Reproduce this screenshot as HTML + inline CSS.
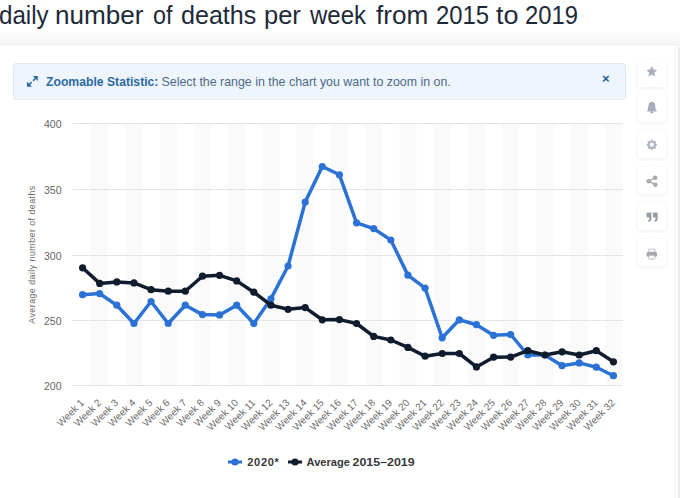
<!DOCTYPE html>
<html><head><meta charset="utf-8"><style>
*{margin:0;padding:0;box-sizing:border-box}
html,body{width:680px;height:498px;overflow:hidden;background:#fff;font-family:"Liberation Sans",sans-serif}
.shade{position:absolute;left:0;top:30px;width:680px;height:16px;background:linear-gradient(to bottom,rgba(0,0,0,0),rgba(0,0,0,0.045))}
.card{position:absolute;left:0;top:46px;width:680px;height:460px;background:#fff}
.rb{position:absolute;left:678px;top:47px;width:2px;height:460px;background:#ececec}
.rl{position:absolute;left:675px;top:47px;width:1px;height:460px;background:#f5f5f5}
h1{position:absolute;left:0;top:0px;width:680px;height:31px;font-size:24.9px;font-weight:normal;color:#1e2a39;white-space:nowrap;line-height:30px}
h1 span{position:absolute;top:0;transform-origin:0 0}
.info{position:absolute;left:13px;top:63px;width:613px;height:37px;background:#eef5fc;border:1px solid #e0e8f0;border-radius:3px;font-size:12.5px;color:#4d6b88;line-height:35px;padding-left:32px;white-space:nowrap}
.info b{color:#2b6aa2}
.b1{position:absolute;left:32px;top:1px;font-size:12.2px}
.r1{position:absolute;left:147.5px;top:1px;font-size:12.4px}
.info .x{position:absolute;right:15.5px;top:-3.2px;font-weight:bold;color:#245f96;font-size:13px}
.btn{position:absolute;left:638px;width:28px;height:28px;background:#fff;border-radius:3px;box-shadow:0 1px 4px rgba(0,0,0,0.075)}
svg{position:absolute;left:0;top:0}
.yl{font-size:10.5px;fill:#666}
.yt{font-size:8.8px;fill:#6a6a6a;letter-spacing:0.48px}
.xl{font-size:10px;fill:#6c6c6c}
.lg{font-size:11px;font-weight:bold;fill:#383838}
</style></head><body>
<div class="shade"></div>
<div class="card"></div><div class="rl"></div><div class="rb"></div>
<h1><span style="left:-0.97px;transform:scaleX(0.9706)">daily</span><span style="left:55.30px;transform:scaleX(1.0494)">number</span><span style="left:152.76px;transform:scaleX(0.9400)">of</span><span style="left:181.39px;transform:scaleX(1.0081)">deaths</span><span style="left:263.55px;transform:scaleX(1.0235)">per</span><span style="left:309.50px;transform:scaleX(0.9661)">week</span><span style="left:376.00px;transform:scaleX(1.0510)">from</span><span style="left:436.04px;transform:scaleX(0.9593)">2015</span><span style="left:495.70px;transform:scaleX(1.0850)">to</span><span style="left:525.04px;transform:scaleX(0.9556)">2019</span></h1>
<div class="info"><svg width="10.8" height="10.8" viewBox="0 0 12 12" style="position:absolute;left:13px;top:12px"><path d="M1 11 L5.2 6.8 M11 1 L6.8 5.2" stroke="#2b6aa2" stroke-width="1.7" fill="none"/><path d="M0 12 L0 6.5 L5.5 12Z M12 0 L12 5.5 L6.5 0Z" fill="#2b6aa2"/></svg><b class="b1">Zoomable Statistic:</b><span class="r1">Select the range in the chart you want to zoom in on.</span><span class="x">&#215;</span></div>
<div class="btn" style="top:59.5px;height:27px"></div><div class="btn" style="top:95.3px;height:27px"></div><div class="btn" style="top:131.2px;height:27px"></div><div class="btn" style="top:167.2px;height:27px"></div><div class="btn" style="top:203.3px;height:27px"></div><div class="btn" style="top:239.4px;height:27px"></div>
<svg width="680" height="498" viewBox="0 0 680 498">
<rect x="91.12" y="123.5" width="17.12" height="262.0" fill="#fafafa"/>
<rect x="125.38" y="123.5" width="17.12" height="262.0" fill="#fafafa"/>
<rect x="159.62" y="123.5" width="17.12" height="262.0" fill="#fafafa"/>
<rect x="193.88" y="123.5" width="17.12" height="262.0" fill="#fafafa"/>
<rect x="228.12" y="123.5" width="17.12" height="262.0" fill="#fafafa"/>
<rect x="262.38" y="123.5" width="17.12" height="262.0" fill="#fafafa"/>
<rect x="296.62" y="123.5" width="17.12" height="262.0" fill="#fafafa"/>
<rect x="330.88" y="123.5" width="17.12" height="262.0" fill="#fafafa"/>
<rect x="365.12" y="123.5" width="17.12" height="262.0" fill="#fafafa"/>
<rect x="399.38" y="123.5" width="17.12" height="262.0" fill="#fafafa"/>
<rect x="433.62" y="123.5" width="17.12" height="262.0" fill="#fafafa"/>
<rect x="467.88" y="123.5" width="17.12" height="262.0" fill="#fafafa"/>
<rect x="502.12" y="123.5" width="17.12" height="262.0" fill="#fafafa"/>
<rect x="536.38" y="123.5" width="17.12" height="262.0" fill="#fafafa"/>
<rect x="570.62" y="123.5" width="17.12" height="262.0" fill="#fafafa"/>
<rect x="604.88" y="123.5" width="17.12" height="262.0" fill="#fafafa"/>
<line x1="72.5" x2="623.0" y1="123.5" y2="123.5" stroke="#e4e4e4" stroke-width="1"/>
<line x1="72.5" x2="623.0" y1="189.5" y2="189.5" stroke="#e4e4e4" stroke-width="1"/>
<line x1="72.5" x2="623.0" y1="255.5" y2="255.5" stroke="#e4e4e4" stroke-width="1"/>
<line x1="72.5" x2="623.0" y1="320.5" y2="320.5" stroke="#e4e4e4" stroke-width="1"/>
<line x1="72.5" x2="623.0" y1="385.5" y2="385.5" stroke="#e4e4e4" stroke-width="1"/>
<text x="61.5" y="128.1" text-anchor="end" class="yl">400</text>
<text x="61.5" y="193.6" text-anchor="end" class="yl">350</text>
<text x="61.5" y="259.5" text-anchor="end" class="yl">300</text>
<text x="61.5" y="324.6" text-anchor="end" class="yl">250</text>
<text x="61.5" y="390.1" text-anchor="end" class="yl">200</text>
<text transform="translate(35,254.5) rotate(-90)" text-anchor="middle" class="yt">Average daily number of deaths</text>
<text transform="translate(84.76,403.4) rotate(-45)" text-anchor="end" class="xl">Week 1</text>
<text transform="translate(101.89,403.4) rotate(-45)" text-anchor="end" class="xl">Week 2</text>
<text transform="translate(119.01,403.4) rotate(-45)" text-anchor="end" class="xl">Week 3</text>
<text transform="translate(136.14,403.4) rotate(-45)" text-anchor="end" class="xl">Week 4</text>
<text transform="translate(153.26,403.4) rotate(-45)" text-anchor="end" class="xl">Week 5</text>
<text transform="translate(170.39,403.4) rotate(-45)" text-anchor="end" class="xl">Week 6</text>
<text transform="translate(187.51,403.4) rotate(-45)" text-anchor="end" class="xl">Week 7</text>
<text transform="translate(204.64,403.4) rotate(-45)" text-anchor="end" class="xl">Week 8</text>
<text transform="translate(221.76,403.4) rotate(-45)" text-anchor="end" class="xl">Week 9</text>
<text transform="translate(238.89,403.4) rotate(-45)" text-anchor="end" class="xl">Week 10</text>
<text transform="translate(256.01,403.4) rotate(-45)" text-anchor="end" class="xl">Week 11</text>
<text transform="translate(273.14,403.4) rotate(-45)" text-anchor="end" class="xl">Week 12</text>
<text transform="translate(290.26,403.4) rotate(-45)" text-anchor="end" class="xl">Week 13</text>
<text transform="translate(307.39,403.4) rotate(-45)" text-anchor="end" class="xl">Week 14</text>
<text transform="translate(324.51,403.4) rotate(-45)" text-anchor="end" class="xl">Week 15</text>
<text transform="translate(341.64,403.4) rotate(-45)" text-anchor="end" class="xl">Week 16</text>
<text transform="translate(358.76,403.4) rotate(-45)" text-anchor="end" class="xl">Week 17</text>
<text transform="translate(375.89,403.4) rotate(-45)" text-anchor="end" class="xl">Week 18</text>
<text transform="translate(393.01,403.4) rotate(-45)" text-anchor="end" class="xl">Week 19</text>
<text transform="translate(410.14,403.4) rotate(-45)" text-anchor="end" class="xl">Week 20</text>
<text transform="translate(427.26,403.4) rotate(-45)" text-anchor="end" class="xl">Week 21</text>
<text transform="translate(444.39,403.4) rotate(-45)" text-anchor="end" class="xl">Week 22</text>
<text transform="translate(461.51,403.4) rotate(-45)" text-anchor="end" class="xl">Week 23</text>
<text transform="translate(478.64,403.4) rotate(-45)" text-anchor="end" class="xl">Week 24</text>
<text transform="translate(495.76,403.4) rotate(-45)" text-anchor="end" class="xl">Week 25</text>
<text transform="translate(512.89,403.4) rotate(-45)" text-anchor="end" class="xl">Week 26</text>
<text transform="translate(530.01,403.4) rotate(-45)" text-anchor="end" class="xl">Week 27</text>
<text transform="translate(547.14,403.4) rotate(-45)" text-anchor="end" class="xl">Week 28</text>
<text transform="translate(564.26,403.4) rotate(-45)" text-anchor="end" class="xl">Week 29</text>
<text transform="translate(581.39,403.4) rotate(-45)" text-anchor="end" class="xl">Week 30</text>
<text transform="translate(598.51,403.4) rotate(-45)" text-anchor="end" class="xl">Week 31</text>
<text transform="translate(615.64,403.4) rotate(-45)" text-anchor="end" class="xl">Week 32</text>
<polyline points="82.56,294.7 99.69,293.6 116.81,305.2 133.94,323.5 151.06,301.5 168.19,323.5 185.31,305.2 202.44,314.6 219.56,314.9 236.69,305.2 253.81,323.5 270.94,298.8 288.06,266.0 305.19,202.1 322.31,166.5 339.44,174.8 356.56,222.8 373.69,228.6 390.81,240.0 407.94,275.2 425.06,288.1 442.19,337.8 459.31,319.8 476.44,324.7 493.56,335.3 510.69,334.5 527.81,355.0 544.94,355.0 562.06,365.7 579.19,362.9 596.31,367.2 613.44,375.7" fill="none" stroke="#2a72d5" stroke-width="3.5" stroke-linejoin="round" stroke-linecap="round"/>
<circle cx="82.56" cy="294.7" r="3.6" fill="#2a72d5"/>
<circle cx="99.69" cy="293.6" r="3.6" fill="#2a72d5"/>
<circle cx="116.81" cy="305.2" r="3.6" fill="#2a72d5"/>
<circle cx="133.94" cy="323.5" r="3.6" fill="#2a72d5"/>
<circle cx="151.06" cy="301.5" r="3.6" fill="#2a72d5"/>
<circle cx="168.19" cy="323.5" r="3.6" fill="#2a72d5"/>
<circle cx="185.31" cy="305.2" r="3.6" fill="#2a72d5"/>
<circle cx="202.44" cy="314.6" r="3.6" fill="#2a72d5"/>
<circle cx="219.56" cy="314.9" r="3.6" fill="#2a72d5"/>
<circle cx="236.69" cy="305.2" r="3.6" fill="#2a72d5"/>
<circle cx="253.81" cy="323.5" r="3.6" fill="#2a72d5"/>
<circle cx="270.94" cy="298.8" r="3.6" fill="#2a72d5"/>
<circle cx="288.06" cy="266.0" r="3.6" fill="#2a72d5"/>
<circle cx="305.19" cy="202.1" r="3.6" fill="#2a72d5"/>
<circle cx="322.31" cy="166.5" r="3.6" fill="#2a72d5"/>
<circle cx="339.44" cy="174.8" r="3.6" fill="#2a72d5"/>
<circle cx="356.56" cy="222.8" r="3.6" fill="#2a72d5"/>
<circle cx="373.69" cy="228.6" r="3.6" fill="#2a72d5"/>
<circle cx="390.81" cy="240.0" r="3.6" fill="#2a72d5"/>
<circle cx="407.94" cy="275.2" r="3.6" fill="#2a72d5"/>
<circle cx="425.06" cy="288.1" r="3.6" fill="#2a72d5"/>
<circle cx="442.19" cy="337.8" r="3.6" fill="#2a72d5"/>
<circle cx="459.31" cy="319.8" r="3.6" fill="#2a72d5"/>
<circle cx="476.44" cy="324.7" r="3.6" fill="#2a72d5"/>
<circle cx="493.56" cy="335.3" r="3.6" fill="#2a72d5"/>
<circle cx="510.69" cy="334.5" r="3.6" fill="#2a72d5"/>
<circle cx="527.81" cy="355.0" r="3.6" fill="#2a72d5"/>
<circle cx="544.94" cy="355.0" r="3.6" fill="#2a72d5"/>
<circle cx="562.06" cy="365.7" r="3.6" fill="#2a72d5"/>
<circle cx="579.19" cy="362.9" r="3.6" fill="#2a72d5"/>
<circle cx="596.31" cy="367.2" r="3.6" fill="#2a72d5"/>
<circle cx="613.44" cy="375.7" r="3.6" fill="#2a72d5"/>
<polyline points="82.56,267.8 99.69,283.4 116.81,281.9 133.94,282.9 151.06,289.7 168.19,291.2 185.31,291.2 202.44,276.2 219.56,275.3 236.69,280.9 253.81,292.2 270.94,305.2 288.06,309.3 305.19,307.6 322.31,319.8 339.44,319.6 356.56,323.5 373.69,336.4 390.81,340.0 407.94,347.4 425.06,356.2 442.19,353.5 459.31,353.5 476.44,366.9 493.56,357.2 510.69,357.1 527.81,350.7 544.94,355.0 562.06,351.8 579.19,355.0 596.31,350.7 613.44,361.8" fill="none" stroke="#0f1c2e" stroke-width="3.5" stroke-linejoin="round" stroke-linecap="round"/>
<circle cx="82.56" cy="267.8" r="3.6" fill="#0f1c2e"/>
<circle cx="99.69" cy="283.4" r="3.6" fill="#0f1c2e"/>
<circle cx="116.81" cy="281.9" r="3.6" fill="#0f1c2e"/>
<circle cx="133.94" cy="282.9" r="3.6" fill="#0f1c2e"/>
<circle cx="151.06" cy="289.7" r="3.6" fill="#0f1c2e"/>
<circle cx="168.19" cy="291.2" r="3.6" fill="#0f1c2e"/>
<circle cx="185.31" cy="291.2" r="3.6" fill="#0f1c2e"/>
<circle cx="202.44" cy="276.2" r="3.6" fill="#0f1c2e"/>
<circle cx="219.56" cy="275.3" r="3.6" fill="#0f1c2e"/>
<circle cx="236.69" cy="280.9" r="3.6" fill="#0f1c2e"/>
<circle cx="253.81" cy="292.2" r="3.6" fill="#0f1c2e"/>
<circle cx="270.94" cy="305.2" r="3.6" fill="#0f1c2e"/>
<circle cx="288.06" cy="309.3" r="3.6" fill="#0f1c2e"/>
<circle cx="305.19" cy="307.6" r="3.6" fill="#0f1c2e"/>
<circle cx="322.31" cy="319.8" r="3.6" fill="#0f1c2e"/>
<circle cx="339.44" cy="319.6" r="3.6" fill="#0f1c2e"/>
<circle cx="356.56" cy="323.5" r="3.6" fill="#0f1c2e"/>
<circle cx="373.69" cy="336.4" r="3.6" fill="#0f1c2e"/>
<circle cx="390.81" cy="340.0" r="3.6" fill="#0f1c2e"/>
<circle cx="407.94" cy="347.4" r="3.6" fill="#0f1c2e"/>
<circle cx="425.06" cy="356.2" r="3.6" fill="#0f1c2e"/>
<circle cx="442.19" cy="353.5" r="3.6" fill="#0f1c2e"/>
<circle cx="459.31" cy="353.5" r="3.6" fill="#0f1c2e"/>
<circle cx="476.44" cy="366.9" r="3.6" fill="#0f1c2e"/>
<circle cx="493.56" cy="357.2" r="3.6" fill="#0f1c2e"/>
<circle cx="510.69" cy="357.1" r="3.6" fill="#0f1c2e"/>
<circle cx="527.81" cy="350.7" r="3.6" fill="#0f1c2e"/>
<circle cx="544.94" cy="355.0" r="3.6" fill="#0f1c2e"/>
<circle cx="562.06" cy="351.8" r="3.6" fill="#0f1c2e"/>
<circle cx="579.19" cy="355.0" r="3.6" fill="#0f1c2e"/>
<circle cx="596.31" cy="350.7" r="3.6" fill="#0f1c2e"/>
<circle cx="613.44" cy="361.8" r="3.6" fill="#0f1c2e"/>
<line x1="228" x2="242" y1="462" y2="462" stroke="#2a72d5" stroke-width="3"/>
<circle cx="235" cy="462" r="3.6" fill="#2a72d5"/>
<line x1="288" x2="302" y1="462" y2="462" stroke="#0f1c2e" stroke-width="3"/>
<circle cx="295" cy="462" r="3.6" fill="#0f1c2e"/>
<text x="247.3" y="466" class="lg" style="letter-spacing:0.7px">2020*</text>
<text x="306.6" y="466" class="lg" textLength="43.3" lengthAdjust="spacingAndGlyphs">Average</text>
<text x="352.6" y="466" class="lg" textLength="62" lengthAdjust="spacingAndGlyphs">2015–2019</text>
<polygon points="651.80,66.70 653.27,69.78 656.65,70.22 654.18,72.57 654.80,75.93 651.80,74.30 648.80,75.93 649.42,72.57 646.95,70.22 650.33,69.78" fill="#a6aebd" stroke="#a6aebd" stroke-width="0.6" stroke-linejoin="round"/><path d="M646.5 111.4 C647.8 110.4 648.0 108.9 648.1999999999999 106.9 L648.6999999999999 104.3 Q649.0999999999999 101.7 651.8 101.7 Q654.5 101.7 654.9 104.3 L655.4 106.9 C655.5999999999999 108.9 655.8 110.4 657.0999999999999 111.4 Z" fill="#a6aebd"/><circle cx="651.8" cy="112.2" r="1.3" fill="#a6aebd"/><polygon points="651.80,139.40 653.22,141.38 655.62,140.98 655.22,143.38 657.20,144.80 655.22,146.22 655.62,148.62 653.22,148.22 651.80,150.20 650.38,148.22 647.98,148.62 648.38,146.22 646.40,144.80 648.38,143.38 647.98,140.98 650.38,141.38" fill="#abb2c0" stroke="#abb2c0" stroke-width="0.5" stroke-linejoin="round"/><circle cx="651.8" cy="144.8" r="2.2" fill="#f4f5f8"/><g stroke="#a7a9b0" stroke-width="1.3"><line x1="648.6" y1="181.2" x2="655.2" y2="177.8"/><line x1="648.6" y1="181.2" x2="655.4" y2="184.7"/></g><circle cx="648.6" cy="181.2" r="2.2" fill="#a7a9b0"/><circle cx="655.2" cy="177.8" r="2.2" fill="#a7a9b0"/><circle cx="655.4" cy="184.7" r="2.2" fill="#a7a9b0"/><rect x="646.6" y="212.4" width="4.7" height="5.0" rx="0.9" fill="#959ca8"/><path d="M649.3000000000001 215 L651.3000000000001 215 L651.3000000000001 219.2 Q651.3000000000001 221.6 648.2 221.6 L648.2 220 Q649.3000000000001 220 649.3000000000001 218.8 Z" fill="#959ca8"/><rect x="652.9" y="212.4" width="4.7" height="5.0" rx="0.9" fill="#959ca8"/><path d="M655.6 215 L657.6 215 L657.6 219.2 Q657.6 221.6 654.5 221.6 L654.5 220 Q655.6 220 655.6 218.8 Z" fill="#959ca8"/><rect x="648.9" y="249.2" width="5.8" height="3.5" fill="none" stroke="#c2c4c8" stroke-width="1"/><rect x="646.6" y="251.8" width="10.4" height="5" rx="1.6" fill="#a4a6ab"/><rect x="648.9" y="255.3" width="5.8" height="3.8" rx="0.6" fill="#fff" stroke="#b9bbc0" stroke-width="1"/>
</svg>
</body></html>
